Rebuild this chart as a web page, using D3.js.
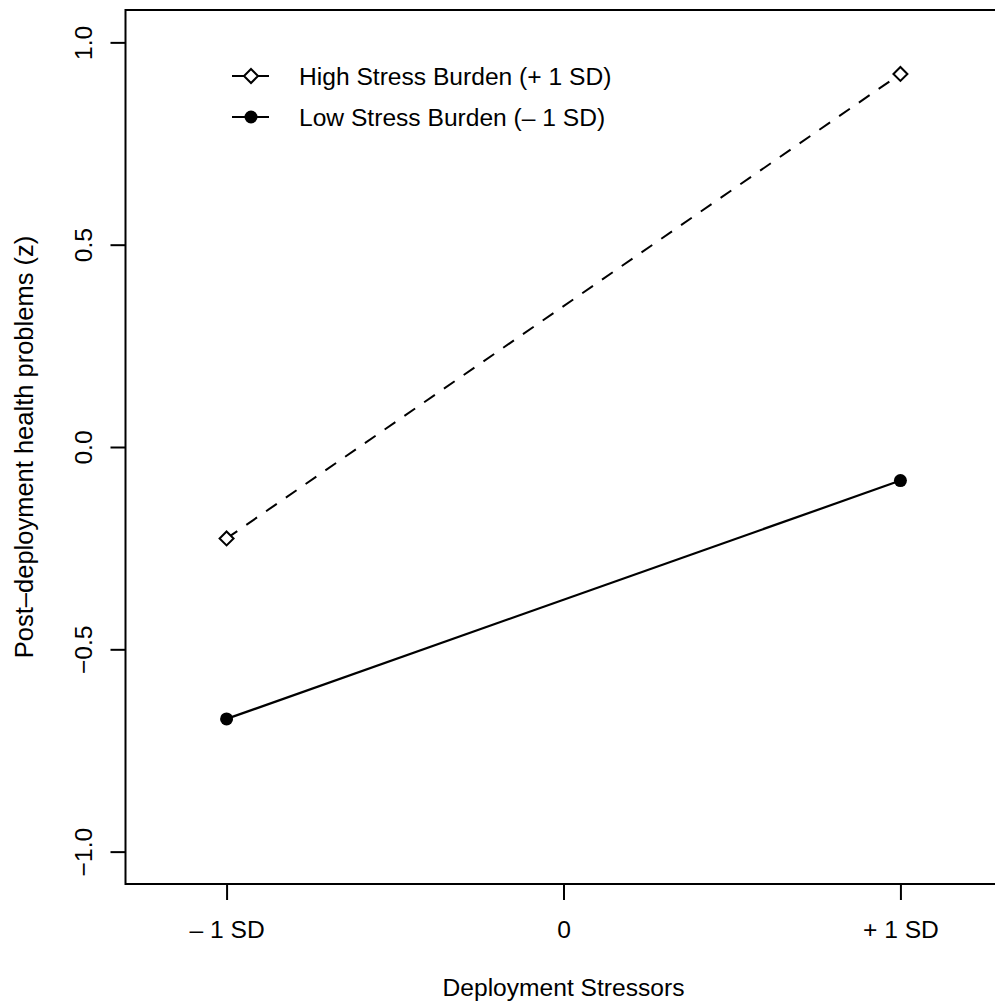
<!DOCTYPE html>
<html>
<head>
<meta charset="utf-8">
<script src="https://cdn.jsdelivr.net/npm/d3@7"></script>
<style>
  html, body { margin: 0; padding: 0; background: #fff; }
  svg text { font-family: "Liberation Sans", Arial, Helvetica, sans-serif; fill: #000; }
</style>
</head>
<body>
<svg id="chart" width="995" height="1006"></svg>
<script>
// data
const xTicks = [-1, 0, 1];
const xTickLabels = ['– 1 SD', '0', '+ 1 SD'];
const yTicks = [-1, -0.5, 0, 0.5, 1];
const stressLevels = [-1, 1];
const highBurden = [-0.226, 0.922];
const lowBurden = [-0.672, -0.083];
const legendLabels = ['High Stress Burden (+ 1 SD)', 'Low Stress Burden (– 1 SD)'];

const svg = d3.select('#chart');
const fontSize = 24.6;

// plot region (R style, 4% padding on limits)
const x = d3.scaleLinear().domain([-1.3, 1.3]).range([125.5, 1001.5]);
const y = d3.scaleLinear().domain([-1.08, 1.08]).range([884, 10]);

// frame
svg.append('rect')
    .attr('x', x(-1.3))
    .attr('y', y(1.08))
    .attr('width', x(1.3) - x(-1.3))
    .attr('height', y(-1.08) - y(1.08))
    .attr('fill', 'none')
    .attr('stroke', '#000')
    .attr('stroke-width', 2);

// y axis
const yAxis = svg.append('g')
    .attr('transform', `translate(${x(-1.3)},0)`)
    .call(d3.axisLeft(y).tickValues(yTicks).tickSize(15).tickFormat(d3.format('.1f')));
yAxis.select('.domain').remove();
yAxis.selectAll('line').attr('stroke-width', 2);
yAxis.selectAll('text')
    .attr('x', null)
    .attr('dy', null)
    .attr('transform', 'translate(-34,0) rotate(-90)')
    .attr('text-anchor', 'middle')
    .attr('font-size', fontSize)
    .text(d => d3.format('.1f')(d).replace('-', '\u2212'));

// x axis
const xAxis = svg.append('g')
    .attr('transform', `translate(0,${y(-1.08)})`)
    .call(d3.axisBottom(x).tickValues(xTicks).tickSize(16).tickFormat((d, i) => xTickLabels[i]));
xAxis.select('.domain').remove();
xAxis.selectAll('line').attr('stroke-width', 2);
xAxis.selectAll('text')
    .attr('y', 54)
    .attr('dy', null)
    .attr('font-size', fontSize);

// axis titles
svg.append('text')
    .attr('x', 563.5)
    .attr('y', 996)
    .attr('text-anchor', 'middle')
    .attr('font-size', fontSize)
    .text('Deployment Stressors');

svg.append('text')
    .attr('transform', `translate(33,${(y(1.08) + y(-1.08)) / 2}) rotate(-90)`)
    .attr('text-anchor', 'middle')
    .attr('font-size', 25.5)
    .text('Post\u2013deployment health problems (z)');

// lines
const line = d3.line()
    .x((d, i) => x(stressLevels[i]))
    .y(d => y(d));

svg.append('path')
    .datum(highBurden)
    .attr('d', line)
    .attr('fill', 'none')
    .attr('stroke', '#000')
    .attr('stroke-width', 2)
    .attr('stroke-dasharray', '13,11');

svg.append('path')
    .datum(lowBurden)
    .attr('d', line)
    .attr('fill', 'none')
    .attr('stroke', '#000')
    .attr('stroke-width', 2.2);

const diamond = s => `M0,${-s}L${s},0L0,${s}L${-s},0Z`;

// markers
svg.selectAll('.high-pt')
    .data(highBurden)
    .enter().append('path')
    .attr('class', 'high-pt')
    .attr('transform', (d, i) => `translate(${x(stressLevels[i])},${y(d)})`)
    .attr('d', diamond(7))
    .attr('fill', '#fff')
    .attr('stroke', '#000')
    .attr('stroke-width', 2);

svg.selectAll('.low-pt')
    .data(lowBurden)
    .enter().append('circle')
    .attr('class', 'low-pt')
    .attr('cx', (d, i) => x(stressLevels[i]))
    .attr('cy', d => y(d))
    .attr('r', 6.5)
    .attr('fill', '#000');

// legend
const legend = svg.append('g');
const legendRows = [76, 117];

legendLabels.forEach((label, i) => {
    const row = legend.append('g').attr('transform', `translate(0,${legendRows[i]})`);
    row.append('line')
        .attr('x1', 232)
        .attr('x2', 269)
        .attr('y1', 0)
        .attr('y2', 0)
        .attr('stroke', '#000')
        .attr('stroke-width', 2);
    if (i === 0) {
        row.append('path')
            .attr('transform', 'translate(251,0)')
            .attr('d', diamond(7))
            .attr('fill', '#fff')
            .attr('stroke', '#000')
            .attr('stroke-width', 2);
    } else {
        row.append('circle')
            .attr('cx', 251)
            .attr('cy', 0)
            .attr('r', 6.5)
            .attr('fill', '#000');
    }
    row.append('text')
        .attr('x', 299)
        .attr('y', 9)
        .attr('font-size', fontSize)
        .text(label);
});
</script>
</body>
</html>
